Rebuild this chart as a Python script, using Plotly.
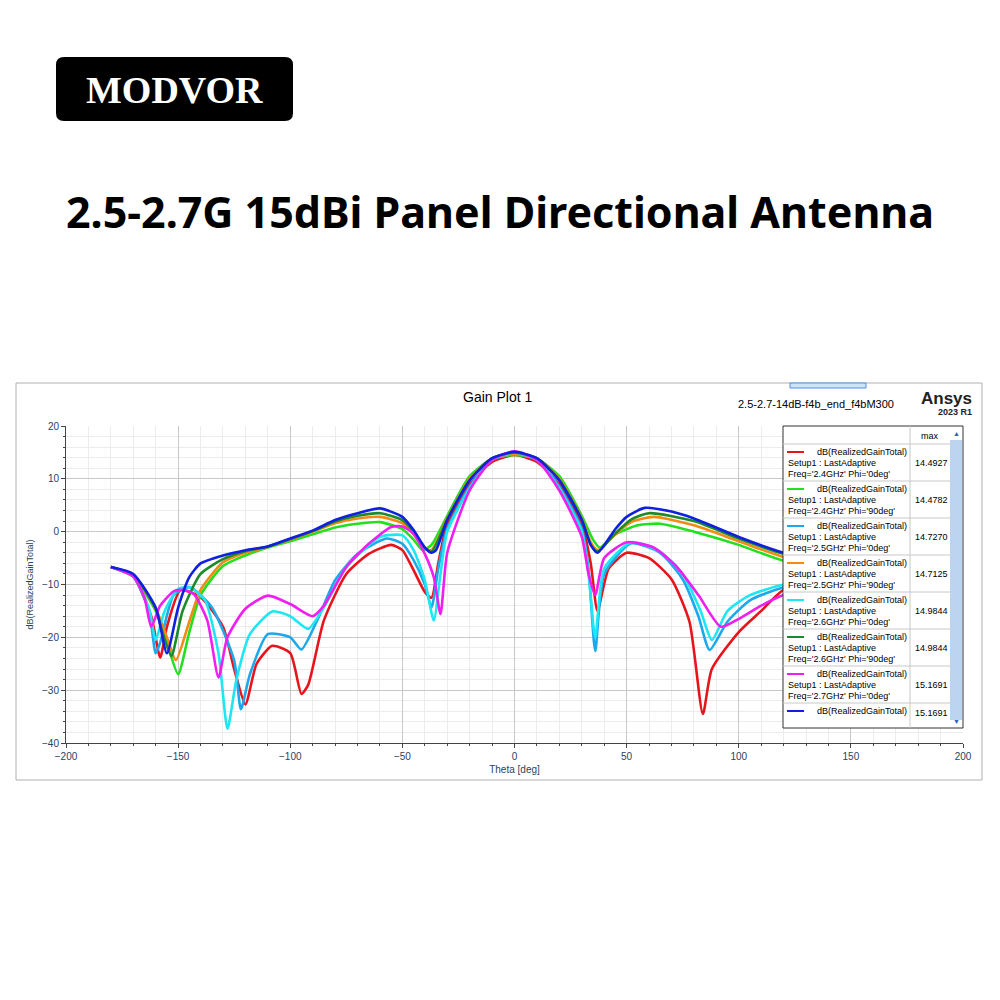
import plotly.graph_objects as go

# Gain curves (theta deg, dB)
theta_red = [-180, -170, -162, -158, -155, -149, -140, -130, -125, -120, -115, -108, -100, -95, -92, -85, -75, -65, -55, -50, -45, -40, -37, -34, -30, -20, -10, 0,
             10, 20, 30, 34, 37, 42, 50, 60, 70, 78, 84, 88, 100, 110, 120, 150, 180]
gain_red = [-6.7, -8.5, -16, -23.8, -18, -11.1, -12.4, -18, -26, -32.7, -25, -21.6, -23, -30.7, -29, -16.8, -8, -4.2, -2.5, -3.5, -7.3, -11.4, -12.5, -6, 1.5, 8.9, 13.2, 14.5,
            13.2, 8.9, 1.5, -6, -15, -7, -4, -5, -9, -17, -34.5, -26, -19, -15, -11, -8, -7]

theta_green = [-180, -170, -160, -155, -150, -145, -140, -130, -120, -110, -100, -90, -80, -70, -60, -50, -45, -41, -37, -30, -20, -10, 0,
               10, 20, 30, 35, 38, 45, 55, 65, 80, 100, 120, 150, 180]
gain_green = [-6.7, -8.5, -15, -21, -27, -19, -12, -6.5, -4.5, -3, -1.8, -0.5, 0.8, 1.5, 1.8, 0.5, -1.5, -3.5, -2.5, 3, 10.5, 13.8, 14.5,
              13.8, 10.5, 3, -1.5, -3, -0.5, 1.2, 1.5, 0, -2.5, -5.5, -7, -7]

theta_lblue = [-180, -170, -163, -160, -158, -152, -145, -135, -125, -122, -118, -110, -100, -95, -88, -80, -70, -57, -50, -45, -40, -37, -34, -30, -20, -10, 0,
               10, 20, 30, 33, 36, 40, 52, 65, 75, 82, 87, 95, 105, 120, 150, 180]
gain_lblue = [-6.7, -8.5, -15, -23, -21, -12, -10.5, -14.3, -24.4, -33.6, -27, -19.4, -20, -22.3, -16.8, -9.2, -4.2, -1.3, -2.3, -5.4, -10, -14.3, -7, 0.5, 8.5, 13.6, 14.7,
              13.6, 8.5, 0.5, -7, -22.6, -8, -2.2, -4, -9, -16, -22.4, -17, -13, -10.5, -8, -7]

theta_orange = [-180, -170, -160, -155, -151, -145, -140, -130, -120, -110, -100, -90, -80, -70, -60, -50, -45, -40, -37, -30, -20, -10, 0,
                10, 20, 30, 34, 37, 45, 52, 62, 80, 100, 120, 150, 180]
gain_orange = [-6.7, -8.3, -14.5, -20, -24.3, -17, -11, -5.8, -4, -2.9, -1.5, 0, 1.6, 2.5, 2.8, 1.6, -0.5, -3.2, -3.5, 2.5, 10, 13.8, 14.7,
               13.8, 10, 2.5, -2, -3.5, -0.5, 1.8, 2.8, 1.2, -1.8, -4.8, -7, -7]

theta_cyan = [-180, -170, -163, -160, -156, -150, -145, -138, -132, -128, -124, -118, -108, -100, -92, -85, -75, -60, -50, -45, -40, -36, -33, -30, -20, -10, 0,
              10, 20, 30, 33, 36, 40, 52, 65, 75, 83, 88, 95, 105, 120, 150, 180]
gain_cyan = [-6.7, -8.5, -14.5, -20.5, -15, -10.8, -10.5, -13, -23, -37.3, -28, -19.4, -15.1, -16, -18.4, -14.3, -6.7, -1, -0.7, -3.5, -9.2, -16.8, -8, 0, 8.2, 13.6, 15,
              13.6, 8.2, 0, -8, -20, -7, -2, -3.8, -8, -15, -20.5, -15, -12, -10, -8, -7]

theta_dgreen = [-180, -170, -160, -157, -153, -148, -140, -130, -120, -110, -100, -90, -80, -70, -60, -50, -45, -40, -37, -30, -20, -10, 0,
                10, 20, 30, 34, 37, 45, 52, 60, 80, 100, 120, 150, 180]
gain_dgreen = [-6.7, -8.2, -14.5, -19, -23.5, -15, -8, -5.2, -3.7, -2.8, -1.4, 0.1, 1.9, 3, 3.5, 2.2, 0, -3, -3.8, 2.3, 9.8, 13.9, 15,
               13.9, 9.8, 2.3, -2.5, -3.8, -0.3, 2.3, 3.5, 2, -1.3, -4.2, -7, -7]

theta_mag = [-180, -170, -165, -162, -158, -152, -148, -143, -137, -132, -128, -120, -110, -100, -90, -85, -75, -65, -55, -50, -45, -40, -36, -33, -30, -20, -10, 0,
             10, 20, 30, 33, 36, 40, 50, 62, 72, 82, 92, 100, 110, 120, 150, 180]
gain_mag = [-6.7, -8.5, -12.5, -18, -14, -11.3, -11, -11.8, -16.8, -27.6, -20, -14.6, -12.1, -13.7, -16, -14, -6.7, -2.3, 0.9, 1, -0.4, -4.2, -8.6, -15.6, -4, 7.8, 13.6, 15.2,
            13.6, 7.8, -1, -8, -12, -5, -2, -3, -6.5, -12, -18, -16.5, -14, -12, -9, -7]

theta_blue = [-180, -170, -160, -155, -150, -145, -140, -130, -120, -110, -100, -90, -80, -70, -60, -50, -45, -40, -37, -35, -30, -20, -10, 0,
              10, 20, 30, 34, 37, 45, 50, 58, 70, 80, 100, 120, 150, 180]
gain_blue = [-6.7, -8, -14.4, -23, -14.4, -8.6, -6, -4.5, -3.5, -2.8, -1.3, 0.2, 2.2, 3.5, 4.4, 2.8, 0.3, -3, -4, -3.5, 2.2, 9.7, 13.9, 15.1,
             13.9, 9.7, 2.2, -2.5, -4, 0.5, 2.8, 4.5, 3.8, 2.5, -1, -4, -7, -7]

series = [
    ("Freq='2.4GHz' Phi='0deg'", "14.4927", "#e8141c", theta_red, gain_red),
    ("Freq='2.4GHz' Phi='90deg'", "14.4782", "#22e01e", theta_green, gain_green),
    ("Freq='2.5GHz' Phi='0deg'", "14.7270", "#1ea8ec", theta_lblue, gain_lblue),
    ("Freq='2.5GHz' Phi='90deg'", "14.7125", "#f38a14", theta_orange, gain_orange),
    ("Freq='2.6GHz' Phi='0deg'", "14.9844", "#1ee6f2", theta_cyan, gain_cyan),
    ("Freq='2.6GHz' Phi='90deg'", "14.9844", "#1a8a2a", theta_dgreen, gain_dgreen),
    ("Freq='2.7GHz' Phi='0deg'", "15.1691", "#f01ef0", theta_mag, gain_mag),
    ("Freq='2.7GHz' Phi='90deg'", "15.1691", "#1020e0", theta_blue, gain_blue),
]

OFF = 8  # the page body adds an 8px margin


def px(x):
    return (x - OFF) / 1000


def py(y):
    return 1 - (y - OFF) / 1000


def label(x, y, text, size, family="Liberation Sans", color="black", xanchor="center"):
    return dict(x=px(x), y=py(y), xref="paper", yref="paper", text=text, showarrow=False,
                xanchor=xanchor, yanchor="middle", font=dict(family=family, size=size, color=color))


fig = go.Figure()
for name, mx, color, th, g in series:
    fig.add_trace(go.Scatter(x=th, y=g, mode="lines", name=name,
                             line=dict(color=color, width=2.6, shape="spline", smoothing=0.6)))

shapes = []
annotations = []
# outer frame of the plot window
shapes.append(dict(type="rect", xref="paper", yref="paper", x0=px(16), x1=px(982), y0=py(780), y1=py(383),
                   line=dict(color="#b0b0b0", width=1), layer="below"))
shapes.append(dict(type="rect", xref="paper", yref="paper", x0=px(790), x1=px(866), y0=py(388), y1=py(383),
                   fillcolor="#cfe3fb", line=dict(color="#4a90e2", width=1)))
# logo
shapes.append(dict(type="path", xref="paper", yref="paper",
                   path=f"M {px(64)},{py(57)} L {px(285)},{py(57)} Q {px(293)},{py(57)} {px(293)},{py(65)} "
                        f"L {px(293)},{py(113)} Q {px(293)},{py(121)} {px(285)},{py(121)} "
                        f"L {px(64)},{py(121)} Q {px(56)},{py(121)} {px(56)},{py(113)} "
                        f"L {px(56)},{py(65)} Q {px(56)},{py(57)} {px(64)},{py(57)} Z",
                   fillcolor="black", line=dict(width=0)))
annotations.append(label(174, 90, "<b>MODVOR</b>", 38, family="Liberation Serif", color="white"))
annotations.append(label(500, 212, "<b>2.5-2.7G 15dBi Panel Directional Antenna</b>", 43, family="Noto Sans"))
annotations.append(label(497, 397, "Gain Plot 1", 14))
annotations.append(label(896, 404, "2.5-2.7-14dB-f4b_end_f4bM300", 11, xanchor="right"))
annotations.append(label(974, 398, "<b>Ansys</b>", 17, color="#222", xanchor="right"))
annotations.append(label(974, 412, "<b>2023 R1</b>", 9, color="#222", xanchor="right"))

# legend table drawn over the plot area
lx0, lx1, ly0, ly1 = 783, 963, 426, 728
shapes.append(dict(type="rect", xref="paper", yref="paper", x0=px(lx0), x1=px(lx1), y0=py(ly1), y1=py(ly0),
                   fillcolor="white", line=dict(color="#333", width=1), layer="above"))
shapes.append(dict(type="rect", xref="paper", yref="paper", x0=px(950), x1=px(962), y0=py(720), y1=py(440),
                   fillcolor="#bcd4f0", line=dict(width=0), layer="above"))
shapes.append(dict(type="line", xref="paper", yref="paper", x0=px(910), x1=px(910), y0=py(ly1), y1=py(ly0),
                   line=dict(color="#c8c8c8", width=1), layer="above"))
annotations.append(label(930, 436, "max", 9))
annotations.append(label(956, 433, "▲", 7, color="#3060c0"))
annotations.append(label(956, 721, "▼", 7, color="#3060c0"))
row_h = 37
for i, (name, mx, color, th, g) in enumerate(series):
    top = 444 + i * row_h
    shapes.append(dict(type="line", xref="paper", yref="paper", x0=px(lx0), x1=px(950), y0=py(top), y1=py(top),
                       line=dict(color="#c8c8c8", width=1), layer="above"))
    shapes.append(dict(type="line", xref="paper", yref="paper", x0=px(787), x1=px(804), y0=py(top + 8), y1=py(top + 8),
                       line=dict(color=color, width=2), layer="above"))
    lines = [(top + 8, "dB(RealizedGainTotal)", 815)]
    if i < 7:
        lines += [(top + 19, "Setup1 : LastAdaptive", 786), (top + 30, name, 786)]
    for yy, txt, xx in lines:
        annotations.append(label(xx, yy, txt, 9, xanchor="left"))
    annotations.append(label(913, top + 19 if i < 7 else top + 10, mx, 9, xanchor="left"))

fig.update_layout(
    width=1000, height=1000, margin=dict(l=0, r=0, t=0, b=0, autoexpand=False),
    paper_bgcolor="white", plot_bgcolor="white", showlegend=False,
    shapes=shapes, annotations=annotations,
    xaxis=dict(domain=[px(66), px(963)], range=[-200, 200], dtick=50, showline=True, linecolor="#444",
               ticks="outside", ticklen=4, gridcolor="#c8c8c8", zeroline=False, automargin=False,
               minor=dict(dtick=10, showgrid=True, gridcolor="#ececec", ticks="outside", ticklen=2),
               tickfont=dict(family="Liberation Sans", size=10),
               title=dict(text="Theta [deg]", font=dict(family="Liberation Sans", size=10), standoff=4)),
    yaxis=dict(domain=[py(743), py(426)], range=[-40, 20], dtick=10, showline=True, linecolor="#444",
               ticks="outside", ticklen=4, gridcolor="#c8c8c8", zeroline=False, automargin=False,
               minor=dict(dtick=2, showgrid=True, gridcolor="#ececec", ticks="outside", ticklen=2),
               tickfont=dict(family="Liberation Sans", size=10),
               title=dict(text="dB(RealizedGainTotal)", font=dict(family="Liberation Sans", size=9), standoff=6)),
)

fig.write_html("out.html")
